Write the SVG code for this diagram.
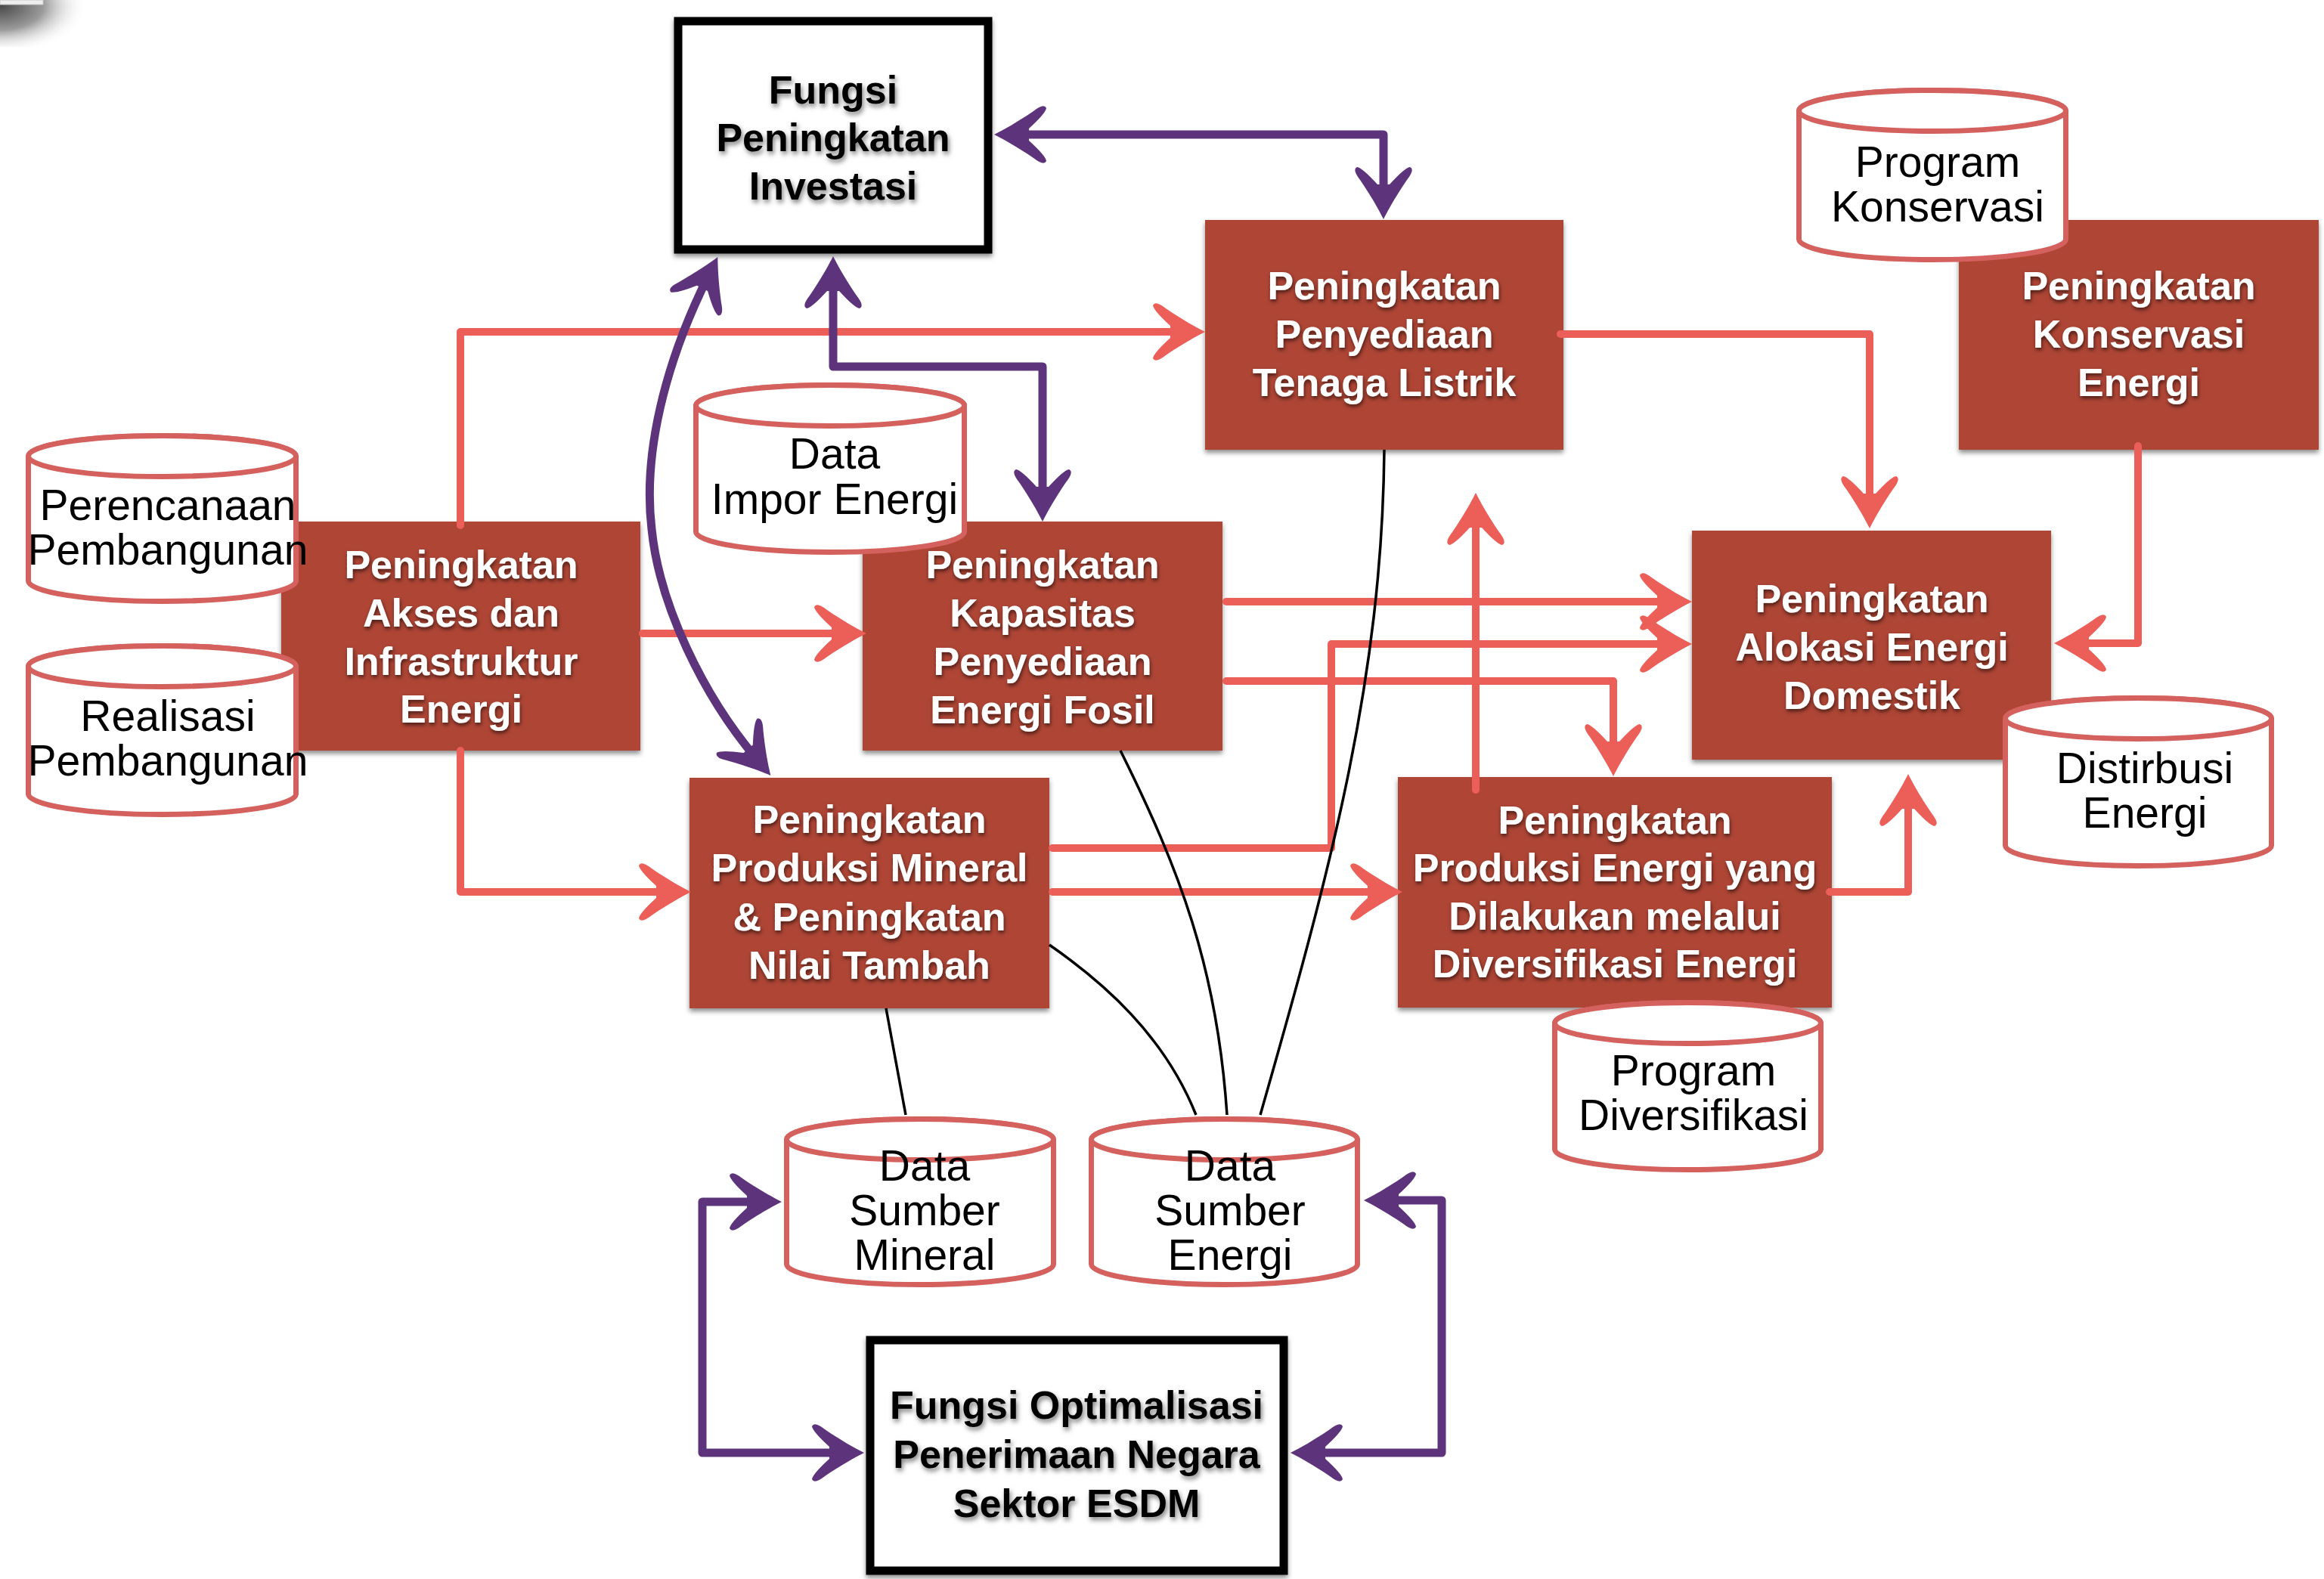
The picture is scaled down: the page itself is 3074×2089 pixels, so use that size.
<svg xmlns="http://www.w3.org/2000/svg" width="3074" height="2089" viewBox="0 0 3074 2089">
  <defs>
    <style>
      .box { fill: #AE4434; }
      .fbox { fill: #ffffff; stroke: #000000; stroke-width: 11; }
      .cyl { fill: #ffffff; stroke: #D4615D; stroke-width: 7; }
      .bt { font-family: "Liberation Sans", Arial, sans-serif; font-weight: bold; font-size: 52px; text-anchor: middle; }
      .wt { fill: #ffffff; }
      .kt { fill: #000000; }
      .ct { font-family: "Liberation Sans", Arial, sans-serif; font-size: 57px; text-anchor: middle; fill: #000000; }
      .red { fill: none; stroke: #EC5E58; stroke-width: 10; stroke-linecap: round; stroke-linejoin: round; marker-end: url(#ar); }
      .pur { fill: none; stroke: #5D347C; stroke-width: 11; stroke-linecap: round; stroke-linejoin: round; marker-start: url(#ap); marker-end: url(#ap); }
      .blk { fill: none; stroke: #000000; stroke-width: 3.5; }
    </style>
    <marker id="ar" markerUnits="userSpaceOnUse" markerWidth="10" markerHeight="10" refX="0" refY="0" orient="auto" overflow="visible">
      <path d="M30,0 C18,-6 0,-16 -22,-31 Q-36,-42 -39,-35 Q-38,-28 -16,-8 L-16,8 Q-38,28 -39,35 Q-36,42 -22,31 C0,16 18,6 30,0 Z" fill="#EC5E58"/>
    </marker>
    <marker id="ap" markerUnits="userSpaceOnUse" markerWidth="10" markerHeight="10" refX="0" refY="0" orient="auto-start-reverse" overflow="visible">
      <path d="M30,0 C18,-6 0,-16 -22,-31 Q-36,-42 -39,-35 Q-38,-28 -16,-8 L-16,8 Q-38,28 -39,35 Q-36,42 -22,31 C0,16 18,6 30,0 Z" fill="#5D347C"/>
    </marker>
    <filter id="shadow" x="-10%" y="-10%" width="120%" height="125%">
      <feDropShadow dx="0" dy="4" stdDeviation="3" flood-color="#000" flood-opacity="0.45"/>
    </filter>
    <filter id="tsw" x="-10%" y="-20%" width="120%" height="150%">
      <feDropShadow dx="1" dy="3" stdDeviation="2.5" flood-color="#000" flood-opacity="0.6"/>
    </filter>
    <filter id="tsk" x="-10%" y="-20%" width="120%" height="150%">
      <feDropShadow dx="2" dy="4" stdDeviation="3" flood-color="#000" flood-opacity="0.5"/>
    </filter>
    <radialGradient id="corner" cx="0" cy="8" r="115" gradientUnits="userSpaceOnUse" gradientTransform="translate(0,8) scale(1,0.55) translate(0,-8)">
      <stop offset="0" stop-color="#4a4a4a"/>
      <stop offset="0.5" stop-color="#9a9a9a"/>
      <stop offset="1" stop-color="#ffffff" stop-opacity="0"/>
    </radialGradient>
  </defs>

  <rect width="3074" height="2089" fill="#ffffff"/>

  <!-- shaded top-left corner -->
  <rect x="0" y="0" width="125" height="62" fill="url(#corner)"/>
  <rect x="0" y="0" width="57" height="6" fill="#eeeeee" stroke="#c8c8c8" stroke-width="1"/>

  <!-- function boxes (black frame) -->
  <g id="fungsi-investasi">
    <rect class="fbox" x="897" y="28" width="410" height="302" filter="url(#shadow)"/>
    <g class="bt kt" filter="url(#tsk)">
      <text x="1102" y="137">Fungsi</text>
      <text x="1102" y="200">Peningkatan</text>
      <text x="1102" y="264">Investasi</text>
    </g>
  </g>
  <g id="fungsi-optimalisasi">
    <rect class="fbox" x="1151" y="1773" width="547" height="305" filter="url(#shadow)"/>
    <g class="bt kt" filter="url(#tsk)">
      <text x="1424" y="1877">Fungsi Optimalisasi</text>
      <text x="1424" y="1942">Penerimaan Negara</text>
      <text x="1424" y="2007">Sektor ESDM</text>
    </g>
  </g>

  <!-- program boxes -->
  <g id="tenaga-listrik">
    <rect class="box" x="1594" y="291" width="474" height="304" filter="url(#shadow)"/>
    <g class="bt wt" filter="url(#tsw)">
      <text x="1831" y="396">Peningkatan</text>
      <text x="1831" y="460">Penyediaan</text>
      <text x="1831" y="524">Tenaga Listrik</text>
    </g>
  </g>
  <g id="konservasi-energi">
    <rect class="box" x="2591" y="291" width="476" height="304" filter="url(#shadow)"/>
    <g class="bt wt" filter="url(#tsw)">
      <text x="2829" y="396">Peningkatan</text>
      <text x="2829" y="460">Konservasi</text>
      <text x="2829" y="524">Energi</text>
    </g>
  </g>
  <g id="akses-infrastruktur">
    <rect class="box" x="372" y="690" width="475" height="303" filter="url(#shadow)"/>
    <g class="bt wt" filter="url(#tsw)">
      <text x="610" y="765">Peningkatan</text>
      <text x="610" y="829">Akses dan</text>
      <text x="610" y="893">Infrastruktur</text>
      <text x="610" y="956">Energi</text>
    </g>
  </g>
  <g id="kapasitas-fosil">
    <rect class="box" x="1141" y="690" width="476" height="303" filter="url(#shadow)"/>
    <g class="bt wt" filter="url(#tsw)">
      <text x="1379" y="765">Peningkatan</text>
      <text x="1379" y="829">Kapasitas</text>
      <text x="1379" y="893">Penyediaan</text>
      <text x="1379" y="957">Energi Fosil</text>
    </g>
  </g>
  <g id="alokasi-domestik">
    <rect class="box" x="2238" y="702" width="475" height="303" filter="url(#shadow)"/>
    <g class="bt wt" filter="url(#tsw)">
      <text x="2476" y="810">Peningkatan</text>
      <text x="2476" y="874">Alokasi Energi</text>
      <text x="2476" y="938">Domestik</text>
    </g>
  </g>
  <g id="produksi-mineral">
    <rect class="box" x="912" y="1029" width="476" height="305" filter="url(#shadow)"/>
    <g class="bt wt" filter="url(#tsw)">
      <text x="1150" y="1102">Peningkatan</text>
      <text x="1150" y="1166">Produksi Mineral</text>
      <text x="1150" y="1231">&amp; Peningkatan</text>
      <text x="1150" y="1295">Nilai Tambah</text>
    </g>
  </g>
  <g id="produksi-diversifikasi">
    <rect class="box" x="1849" y="1028" width="574" height="305" filter="url(#shadow)"/>
    <g class="bt wt" filter="url(#tsw)">
      <text x="2136" y="1103">Peningkatan</text>
      <text x="2136" y="1166">Produksi Energi yang</text>
      <text x="2136" y="1230">Dilakukan melalui</text>
      <text x="2136" y="1293">Diversifikasi Energi</text>
    </g>
  </g>

  <!-- data stores -->
  <g id="perencanaan-pembangunan">
    <path class="cyl" d="M37.5,603.5 V768.5 A177,27 0 0 0 391.5,768.5 V603.5 A177,27 0 0 0 37.5,603.5 Z"/>
    <ellipse class="cyl" cx="214.5" cy="603.5" rx="177" ry="27"/>
    <text class="ct" x="222" y="688">Perencanaan</text>
    <text class="ct" x="222" y="747">Pembangunan</text>
  </g>
  <g id="realisasi-pembangunan">
    <path class="cyl" d="M37.5,881.5 V1050.5 A177,27 0 0 0 391.5,1050.5 V881.5 A177,27 0 0 0 37.5,881.5 Z"/>
    <ellipse class="cyl" cx="214.5" cy="881.5" rx="177" ry="27"/>
    <text class="ct" x="222" y="967">Realisasi</text>
    <text class="ct" x="222" y="1026">Pembangunan</text>
  </g>
  <g id="data-impor-energi">
    <path class="cyl" d="M920.5,536.5 V703.5 A177.5,27 0 0 0 1275.5,703.5 V536.5 A177.5,27 0 0 0 920.5,536.5 Z"/>
    <ellipse class="cyl" cx="1098" cy="536.5" rx="177.5" ry="27"/>
    <text class="ct" x="1104" y="620">Data</text>
    <text class="ct" x="1104" y="680">Impor Energi</text>
  </g>
  <g id="program-konservasi">
    <path class="cyl" d="M2379.5,146.5 V316.5 A176.5,27 0 0 0 2732.5,316.5 V146.5 A176.5,27 0 0 0 2379.5,146.5 Z"/>
    <ellipse class="cyl" cx="2556" cy="146.5" rx="176.5" ry="27"/>
    <text class="ct" x="2563" y="234">Program</text>
    <text class="ct" x="2563" y="293">Konservasi</text>
  </g>
  <g id="distirbusi-energi">
    <path class="cyl" d="M2652.5,950.5 V1118.5 A176,27 0 0 0 3004.5,1118.5 V950.5 A176,27 0 0 0 2652.5,950.5 Z"/>
    <ellipse class="cyl" cx="2828.5" cy="950.5" rx="176" ry="27"/>
    <text class="ct" x="2837" y="1036">Distirbusi</text>
    <text class="ct" x="2837" y="1095">Energi</text>
  </g>
  <g id="program-diversifikasi">
    <path class="cyl" d="M2056.5,1353.5 V1520.5 A176,27 0 0 0 2408.5,1520.5 V1353.5 A176,27 0 0 0 2056.5,1353.5 Z"/>
    <ellipse class="cyl" cx="2232.5" cy="1353.5" rx="176" ry="27"/>
    <text class="ct" x="2240" y="1436">Program</text>
    <text class="ct" x="2240" y="1495">Diversifikasi</text>
  </g>
  <g id="data-sumber-mineral">
    <path class="cyl" d="M1040.5,1507.5 V1672.5 A176.5,27 0 0 0 1393.5,1672.5 V1507.5 A176.5,27 0 0 0 1040.5,1507.5 Z"/>
    <ellipse class="cyl" cx="1217" cy="1507.5" rx="176.5" ry="27"/>
    <text class="ct" x="1223" y="1562">Data</text>
    <text class="ct" x="1223" y="1621">Sumber</text>
    <text class="ct" x="1223" y="1680">Mineral</text>
  </g>
  <g id="data-sumber-energi">
    <path class="cyl" d="M1443.5,1507.5 V1672.5 A176,27 0 0 0 1795.5,1672.5 V1507.5 A176,27 0 0 0 1443.5,1507.5 Z"/>
    <ellipse class="cyl" cx="1619.5" cy="1507.5" rx="176" ry="27"/>
    <text class="ct" x="1627" y="1562">Data</text>
    <text class="ct" x="1627" y="1621">Sumber</text>
    <text class="ct" x="1627" y="1680">Energi</text>
  </g>

  <!-- connectors -->
  <g id="connectors">
    <!-- flows between programmes -->
    <path class="red" d="M609,695 V439 H1564"/>
    <path class="red" d="M850,838 H1116"/>
    <path class="red" d="M609,993 V1180 H884"/>
    <path class="red" d="M1622,796 H2208"/>
    <path class="red" d="M1622,901 H2134 V997"/>
    <path class="red" d="M1392,1122 H1761 V852 H2208"/>
    <path class="red" d="M1392,1180 H1825"/>
    <path class="red" d="M1952,1045 V682"/>
    <path class="red" d="M2064,442 H2473 V669"/>
    <path class="red" d="M2828,590 V851 H2747"/>
    <path class="red" d="M2420,1180 H2524 V1054"/>

    <!-- data source links -->
    <path class="blk" d="M1831,595 C1828,900 1760,1150 1667,1475"/>
    <path class="blk" d="M1482,993 C1560,1150 1610,1280 1623,1475"/>
    <path class="blk" d="M1388,1250 C1460,1300 1540,1370 1582,1475"/>
    <path class="blk" d="M1172,1334 L1198,1475"/>

    <!-- two-way links to the function boxes -->
    <path class="pur" d="M1345,178 H1830 V260"/>
    <path class="pur" d="M1102,369 V485 H1379 V660"/>
    <path class="pur" d="M936,367 C880,480 850,600 862,700 C872,800 930,920 1000,1003"/>
    <path class="pur" d="M1004,1590 H929 V1922 H1113"/>
    <path class="pur" d="M1834,1588 H1907 V1922 H1737"/>
  </g>
</svg>
